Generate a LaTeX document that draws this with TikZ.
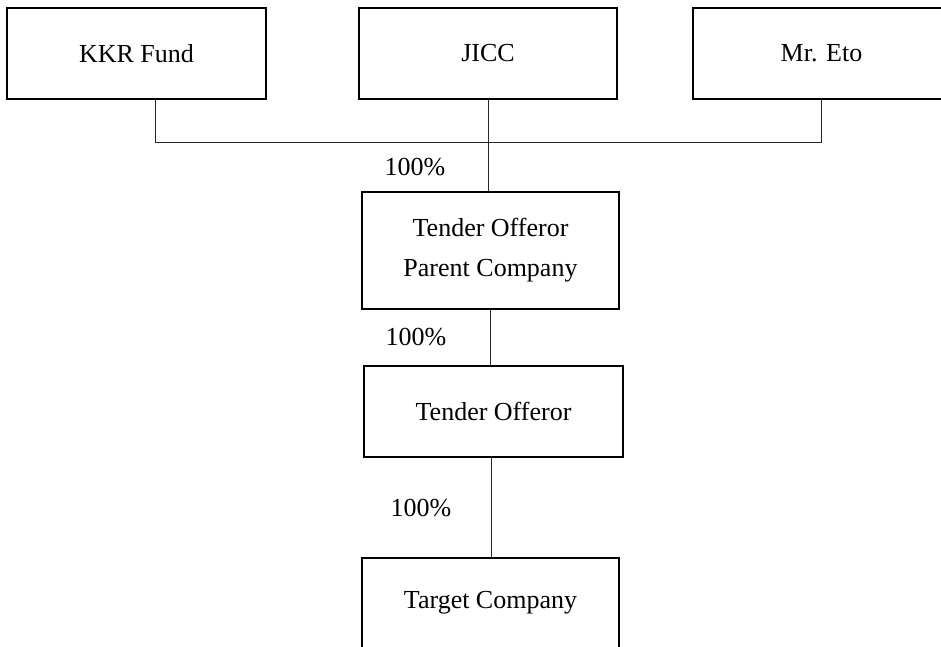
\documentclass[tikz,border=0pt]{standalone}
\usepackage{fontspec}
\setmainfont{Liberation Serif}
\begin{document}
\begin{tikzpicture}[x=1pt,y=-1pt,
  box/.style={draw=black,line width=2pt,rectangle,inner sep=0pt,align=center,
    font=\fontsize{26}{40}\selectfont},
  conn/.style={draw=black!85,line width=1pt},
  pct/.style={font=\fontsize{26}{30}\selectfont,inner sep=0pt}]
\useasboundingbox (0,0) rectangle (941,646);
\clip (0,0) rectangle (941,646);
\node[box,minimum width=259pt,minimum height=91pt] (kkr) at (136.5,53.5) {KKR Fund};
\node[box,minimum width=258pt,minimum height=91pt] (jicc) at (488,53.5) {JICC};
\node[box,minimum width=257pt,minimum height=91pt] (eto) at (821.5,53.5) {Mr. Eto};
\node[box,minimum width=257pt,minimum height=117pt] (parent) at (490.5,250.5) {Tender Offeror\\Parent Company};
\node[box,minimum width=259pt,minimum height=91pt] (offeror) at (493.5,411.5) {Tender Offeror};
\node[box,minimum width=257pt,minimum height=90pt] (target) at (490.5,603) {Target Company};
\coordinate (bar) at (488,142);
\draw[conn] ([xshift=18.5pt]kkr.south) |- (bar -| eto.south) -- (eto.south);
\draw[conn] (jicc.south) -- (jicc.south |- parent.north);
\draw[conn] (parent.south) -- (parent.south |- offeror.north);
\draw[conn] ([xshift=0.5pt]target.north) -- ([xshift=0.5pt]target.north |- offeror.south);
\node[pct] (p1) at (415,167) {100\%};
\node[pct] (p2) at (416,337) {100\%};
\node[pct] (p3) at (421,508) {100\%};
\end{tikzpicture}
\end{document}
